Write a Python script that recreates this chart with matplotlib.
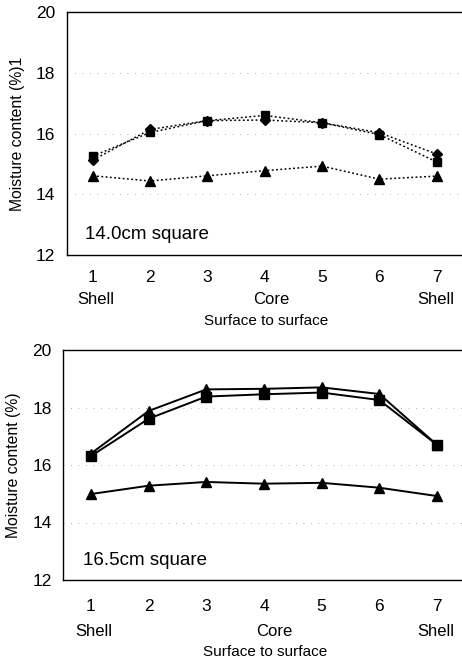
import matplotlib
matplotlib.use("Agg")
import matplotlib.pyplot as plt
import matplotlib.transforms as mtransforms

plt.rcParams['font.family'] = ['Liberation Sans', 'DejaVu Sans']

positions = [1, 2, 3, 4, 5, 6, 7]
tick_labels = ["1", "2", "3", "4", "5", "6", "7"]
yticks = [12, 14, 16, 18, 20]

# 14.0 cm square
top_diamond = [15.13, 16.14, 16.43, 16.45, 16.36, 16.03, 15.33]
top_square = [15.26, 16.04, 16.43, 16.60, 16.36, 15.97, 15.07]
top_triangle = [14.61, 14.44, 14.61, 14.78, 14.93, 14.50, 14.60]

# 16.5 cm square
bot_diamond = [16.40, 17.88, 18.63, 18.65, 18.70, 18.47, 16.70]
bot_square = [16.31, 17.61, 18.38, 18.46, 18.52, 18.26, 16.70]
bot_triangle = [14.99, 15.28, 15.41, 15.35, 15.38, 15.21, 14.92]

W, H = 462, 663
fig = plt.figure(figsize=(W / 100, H / 100), dpi=100)

def make_axes(left_px, top_px, bottom_px):
    return fig.add_axes([left_px / W, 1 - bottom_px / H,
                         (W - left_px) / W + 0.002, (bottom_px - top_px) / H])

ax1 = make_axes(66.5, 12.3, 255)
ax2 = make_axes(62.7, 350, 580)

def style(ax, xlim, ylabel, title, ylab_x, pad, shell_y, surf_y, core_dx):
    ax.set_xlim(*xlim)
    ax.set_ylim(12, 20)
    ax.set_yticks(yticks)
    ax.set_yticklabels([str(v) for v in yticks], fontsize=12.5)
    ax.set_xticks(positions)
    ax.set_xticklabels(tick_labels, fontsize=12.5)
    ax.tick_params(axis='both', length=0)
    ax.tick_params(axis='x', pad=pad)
    ax.tick_params(axis='y', pad=8)
    for y in [14, 16, 18]:
        ax.axhline(y, color='#999999', lw=0.6, ls=(0, (1, 8)), zorder=0)
    for s in ax.spines.values():
        s.set_linewidth(1.0)
        s.set_color('black')
    ax.set_ylabel(ylabel, fontsize=11.3)
    ax.yaxis.set_label_coords(ylab_x, 0.5)
    trans = mtransforms.blended_transform_factory(ax.transData, ax.transAxes)
    ax.text(1.05, shell_y, "Shell", transform=trans, ha='center', va='center', fontsize=12)
    ax.text(4 + core_dx, shell_y, "Core", transform=trans, ha='center', va='center', fontsize=12)
    ax.text(6.98, shell_y, "Shell", transform=trans, ha='center', va='center', fontsize=12)
    ax.text(4.02, surf_y, "Surface to surface", transform=trans, ha='center', va='center', fontsize=11)
    ax.text(0.86, 12.68, title, ha='left', va='center', fontsize=13.5)

style(ax1, (0.54, 7.46), "Moisture content (%)1", "14.0cm square", -0.105, 11, -0.182, -0.274, 0.12)
style(ax2, (0.51, 7.45), "Moisture content (%)", "16.5cm square", -0.103, 14, -0.226, -0.313, 0.17)

dot = (0, (1.2, 1.6))
mk = dict(color='black', markeredgecolor='black', markerfacecolor='black')
ax1.plot(positions, top_diamond, ls=dot, lw=1.1, marker='D', ms=5.5, **mk)
ax1.plot(positions, top_square, ls=dot, lw=1.1, marker='s', ms=6, **mk)
ax1.plot(positions, top_triangle, ls=dot, lw=1.1, marker='^', ms=6.5, **mk)

ax2.plot(positions, bot_diamond, ls='-', lw=1.4, marker='^', ms=6.5, **mk)
ax2.plot(positions, bot_square, ls='-', lw=1.4, marker='s', ms=6.5, **mk)
ax2.plot(positions, bot_triangle, ls='-', lw=1.4, marker='^', ms=6.5, **mk)

fig.savefig("out.png", dpi=100)
